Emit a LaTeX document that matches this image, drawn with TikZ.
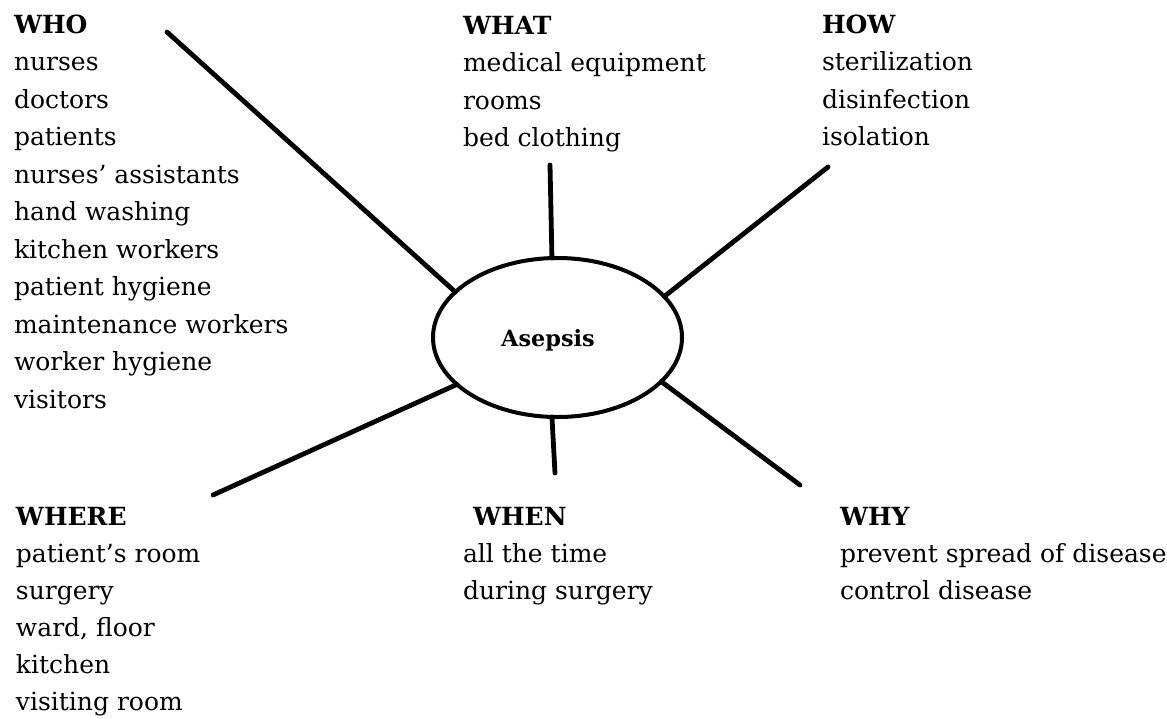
\documentclass[tikz,border=0pt]{standalone}
\usepackage{fontspec}
\setmainfont{DejaVu Serif}
\usetikzlibrary{shapes.geometric}
\tikzset{
  txt/.style={anchor=base west, inner sep=0pt, outer sep=0pt, font=\fontsize{12.5}{15}\selectfont},
  hdr/.style={txt, font=\fontsize{12.5}{15}\selectfont\bfseries},
  spoke/.style={line width=2.4pt, line cap=round},
  hub/.style={draw, ellipse, line width=2pt, minimum width=124.5pt, minimum height=79.5pt,
    inner sep=0pt, outer sep=0pt},
  hubtext/.style={anchor=base, inner sep=0pt, font=\fontsize{11.2}{13}\selectfont\bfseries},
}
\newcommand\placeblock[6]{% name, x, y, spacing, header, items
  \node[hdr] (#1h) at (#2,#3) {#5};
  \foreach \t [count=\i] in {#6} {
    \node[txt] (#1\i) at (#2, #3+#4*\i) {\t};
  }
}
\begin{document}
\begin{tikzpicture}[x=0.5pt,y=-0.5pt]
\useasboundingbox (0,0) rectangle (1167,718);
\node[hub] (asep) at (557.5,337.5) {};
\node[hubtext] (asepT) at (548,346) {Asepsis};

\placeblock{who}{14}{33}{37.5}{WHO}{nurses,doctors,patients,nurses’ assistants,hand washing,kitchen workers,patient hygiene,maintenance workers,worker hygiene,visitors}
\placeblock{what}{463}{34}{37.5}{WHAT}{medical equipment,rooms,bed clothing}
\placeblock{how}{822}{33}{37.5}{HOW}{sterilization,disinfection,isolation}
\placeblock{where}{16}{525}{37}{WHERE}{patient’s room,surgery,{ward, floor},kitchen,visiting room}
\placeblock{when}{463}{525}{37}{\hspace{5pt}WHEN}{all the time,during surgery}
\placeblock{why}{840}{525}{37}{WHY}{prevent spread of disease,control disease}

\coordinate (whoE) at (167,32);
\coordinate (whatE) at (550,165);
\coordinate (howE) at (828,167);
\coordinate (whyE) at (800,485);
\coordinate (whenE) at (555,473);
\coordinate (whereE) at (213,495);

\draw[spoke] (whoE) -- (asep.156.5);
\draw[spoke] (whatE) -- (asep.94);
\draw[spoke] (howE) -- (asep.21.9);
\draw[spoke] (whyE) -- (asep.337.1);
\draw[spoke] (whenE) -- (asep.266.8);
\draw[spoke] (whereE) -- (asep.205.3);
\end{tikzpicture}
\end{document}
